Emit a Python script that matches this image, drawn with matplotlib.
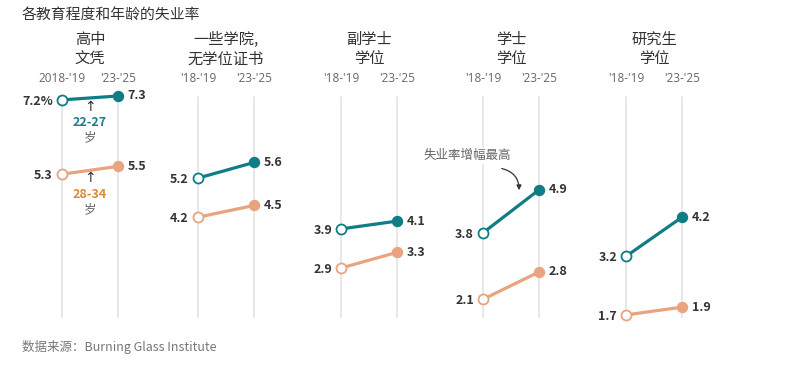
import matplotlib
matplotlib.use("Agg")
import matplotlib.pyplot as plt
from matplotlib.patches import FancyArrowPatch

plt.rcParams['font.family'] = ['Noto Sans CJK SC', 'DejaVu Sans']

# data
groups = ["高中\n文凭", "一些学院,\n无学位证书", "副学士\n学位", "学士\n学位", "研究生\n学位"]
period_labels = [["2018-'19", "'23-'25"]] + [["'18-'19", "'23-'25"]] * 4
young_1819 = [7.2, 5.2, 3.9, 3.8, 3.2]
young_2325 = [7.3, 5.6, 4.1, 4.9, 4.2]
older_1819 = [5.3, 4.2, 2.9, 2.1, 1.7]
older_2325 = [5.5, 4.5, 3.3, 2.8, 1.9]

teal = "#0f7d86"
orange = "#e9a37f"
dark = "#333333"
gray = "#666666"

W, H = 800, 370
fig = plt.figure(figsize=(8, 3.7), dpi=100)
ax = fig.add_axes([0, 0, 1, 1])
ax.set_xlim(0, W)
ax.set_ylim(0.292, 9.755)
ax.axis("off")

panel_x = [62, 198, 341, 483, 626]
gap = 56


def fy(p):
    # pixel-from-top -> figure fraction
    return 1 - p / H


for i, name in enumerate(groups):
    x0, x1 = panel_x[i], panel_x[i] + gap
    for x in (x0, x1):
        ax.plot([x, x], [1.65, 7.28], color="#e6e6e6", lw=1.3, zorder=0)
    fig.text((x0 + x1) / 2 / W, fy(49), name, ha="center", va="center",
             fontsize=11, color=dark, linespacing=1.2)
    fig.text(x0 / W, fy(79), period_labels[i][0], ha="center", va="center",
             fontsize=8.5, color=gray, family=["Open Sans", "DejaVu Sans"])
    fig.text(x1 / W, fy(79), period_labels[i][1], ha="center", va="center",
             fontsize=8.5, color=gray, family=["Open Sans", "DejaVu Sans"])

    for a, b, c in ((young_1819[i], young_2325[i], teal), (older_1819[i], older_2325[i], orange)):
        ax.plot([x0, x1], [a, b], color=c, lw=2.3, zorder=2)
        ax.plot([x0], [a], "o", ms=7.2, mfc="white", mec=c, mew=1.3, zorder=3)
        ax.plot([x1], [b], "o", ms=7.2, mfc=c, mec=c, zorder=3)
        left = f"{a}%" if (i == 0 and c == teal) else f"{a}"
        ax.annotate(left, (x0, a), xytext=(-6.5, -1), textcoords="offset points",
                    ha="right", va="center", fontsize=9, fontweight="bold", color=dark)
        ax.annotate(f"{b}", (x1, b), xytext=(7, 0), textcoords="offset points",
                    ha="left", va="center", fontsize=9, fontweight="bold", color=dark)

# age labels in first panel
cx = 90
for yarr, ylab, ysui, lab, col in ((107, 122, 138, "22-27", "#1a7c84"),
                                   (178, 194, 210, "28-34", "#d98a36")):
    fig.text(cx / W, fy(yarr), "↑", ha="center", va="center", fontsize=10, color=dark,
             family=["DejaVu Sans"])
    fig.text(cx / W, fy(ylab), lab, ha="center", va="center", fontsize=9,
             fontweight="bold", color=col)
    fig.text(cx / W, fy(ysui), "岁", ha="center", va="center", fontsize=9, color=gray)

# annotation on bachelor's panel
fig.text(467 / W, fy(156), "失业率增幅最高", ha="center", va="center", fontsize=9,
         color=gray, bbox=dict(fc="white", ec="none", pad=1))
fig.patches.append(FancyArrowPatch((499 / W, fy(168)), (519 / W, fy(193)),
                                   transform=fig.transFigure,
                                   connectionstyle="arc3,rad=-0.45", arrowstyle="-|>",
                                   mutation_scale=7, color=dark, lw=0.9))

fig.text(22 / W, fy(16), "各教育程度和年龄的失业率", ha="left", va="center",
         fontsize=10.7, color=dark)
fig.text(22 / W, fy(347), "数据来源：Burning Glass Institute", ha="left", va="center",
         fontsize=9, color="#777777")

fig.savefig("out.png", dpi=100, facecolor="white")
